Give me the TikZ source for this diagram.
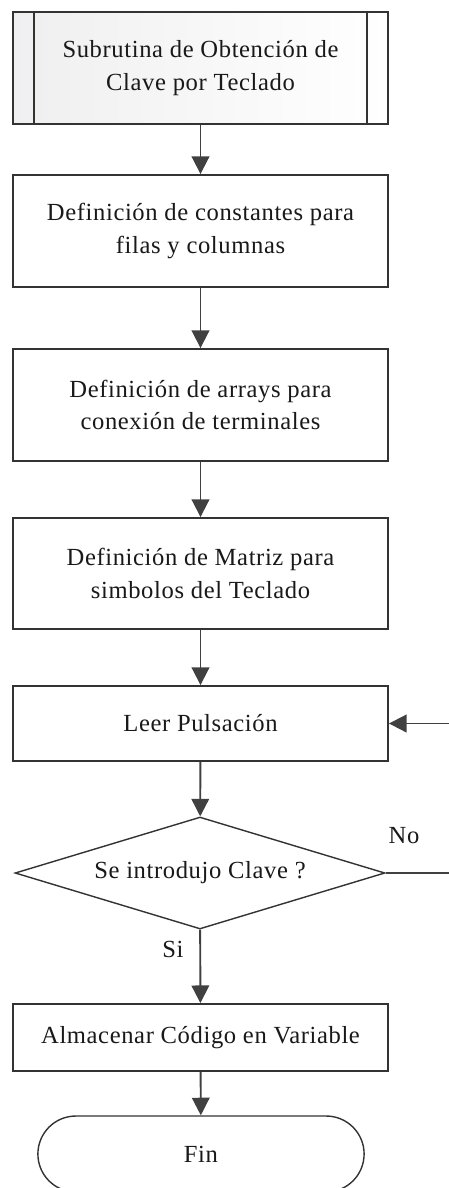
\documentclass[tikz,border=0pt]{standalone}
\usepackage{fontspec}
\setmainfont{Liberation Serif}[LetterSpace=2.5]
\usetikzlibrary{shapes.geometric, shapes.misc, arrows.meta}

\begin{document}
\begin{tikzpicture}[x=0.02cm, y=-0.02cm, font=\fontsize{14}{18.7}\selectfont,
    box/.style={draw=black!80, line width=1.1pt, rectangle, fill=white, minimum width=7.5cm, align=center, text=black!90},
    flow/.style={-{Triangle[length=10pt, width=10pt]}, draw=black!75, line width=1.1pt}]
    \useasboundingbox (0,0) rectangle (449,1188);
    \clip (0,0) rectangle (449,1188);

    \node[box, minimum height=2.24cm, left color=blue!4!gray!12, right color=white] (sub) at (200.5,68) {Subrutina de Obtención de\\Clave por Teclado};
    \draw[black!80, line width=1.1pt] ([xshift=0.44cm]sub.north west) -- ([xshift=0.44cm]sub.south west);
    \draw[black!80, line width=1.1pt] ([xshift=-0.44cm]sub.north east) -- ([xshift=-0.44cm]sub.south east);
    \node[box, minimum height=2.24cm] (const) at (200.5,231) {Definición de constantes para\\filas y columnas};
    \node[box, minimum height=2.24cm] (arrays) at (200.5,405) {Definición de arrays para\\conexión de terminales};
    \node[box, minimum height=2.22cm] (matriz) at (200.5,573.5) {Definición de Matriz para\\simbolos del Teclado};
    \node[box, minimum height=1.5cm] (leer) at (200.5,723.5) {Leer Pulsación};
    \node[draw=black!80, line width=0.8pt, diamond, aspect=3.3, fill=white, minimum width=7.4cm, minimum height=2.24cm, inner sep=0pt, text=black!90] (clave) at (200,873) {Se introdujo Clave ?};
    \node[box, minimum height=1.34cm] (almac) at (200.5,1037.5) {Almacenar Código en Variable};
    \node[draw=black!80, line width=0.8pt, rounded rectangle, minimum width=6.76cm, minimum height=1.52cm, text=black!90] (fin) at (201,1154) {Fin};

    \node[text=black!90] (no) at (404,836) {No};
    \node[text=black!90] (si) at (173,949) {Si};

    \draw[flow] (sub) -- (const);
    \draw[flow] (const) -- (arrays);
    \draw[flow] (arrays) -- (matriz);
    \draw[flow] (matriz) -- (leer);
    \draw[flow] (leer) -- (clave);
    \draw[flow] (clave) -- (almac);
    \draw[flow] (almac) -- (fin);
    \draw[flow] (clave.east) -- ++(90,0) |- (leer.east);
\end{tikzpicture}
\end{document}
